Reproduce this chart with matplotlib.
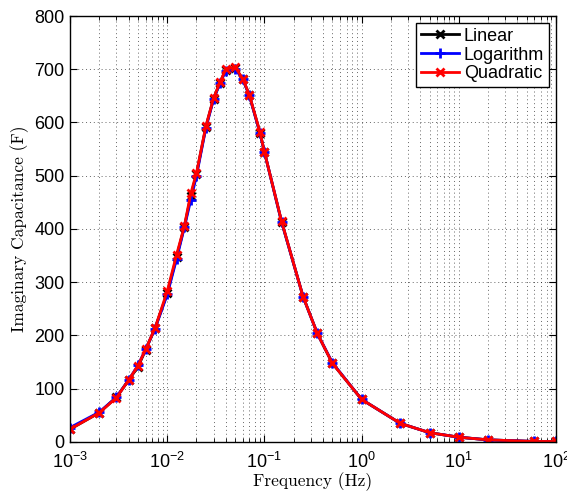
import matplotlib
matplotlib.use('Agg')
import matplotlib.pyplot as plt
from matplotlib.ticker import LogLocator, NullFormatter

plt.rcParams['font.family'] = ['Liberation Sans', 'DejaVu Sans']

# frequencies (Hz)
freq = [0.001, 0.002, 0.003, 0.004, 0.005, 0.006, 0.0075, 0.01, 0.0125, 0.015,
        0.0175, 0.02, 0.025, 0.03, 0.035, 0.04, 0.05, 0.06, 0.07, 0.09, 0.1,
        0.15, 0.25, 0.35, 0.5, 1.0, 2.5, 5.0, 10.0, 20.0, 60.0, 100.0]

# imaginary capacitance (F)
cap_linear = [24, 55, 84, 116, 141, 173, 214, 279, 348, 404,
              462, 503, 592, 645, 675, 699, 703, 681, 651, 581, 545,
              414, 273, 204, 148, 80, 35, 17.5, 9, 4, 1, 1]
cap_log = [27, 56, 84, 116, 144, 174, 213, 277, 344, 403,
           455, 500, 590, 644, 674, 697, 701, 681, 651, 580, 545,
           414, 273, 204, 149, 80, 35, 17.5, 9, 4, 1, 1]
cap_quad = [24, 55, 83, 116, 143, 174, 214, 283, 352, 405,
            467, 505, 593, 646, 676, 700, 704, 682, 652, 582, 545,
            415, 273, 204, 148, 80, 35, 17.5, 9, 4, 1, 1]

fig = plt.figure(figsize=(5.67, 4.94), dpi=100)
ax = fig.add_axes([0.1235, 0.1053, 0.857, 0.8623])

ax.semilogx(freq, cap_linear, '-x', color='black', lw=2, ms=6, mew=2, label='Linear')
ax.semilogx(freq, cap_log, '-+', color='blue', lw=2, ms=7, mew=2, label='Logarithm')
ax.semilogx(freq, cap_quad, '-x', color='red', lw=2, ms=6, mew=2, label='Quadratic')

ax.set_xlim(1e-3, 1e2)
ax.set_ylim(0, 800)
ax.set_yticks(range(0, 801, 100))
ax.xaxis.set_major_locator(LogLocator(base=10, numticks=10))
ax.xaxis.set_minor_locator(LogLocator(base=10, subs=range(2, 10), numticks=20))
ax.xaxis.set_minor_formatter(NullFormatter())

grid_style = dict(color='black', ls=(0, (1, 3)), lw=0.7, alpha=0.6)
ax.grid(True, which='major', axis='both', **grid_style)
ax.grid(True, which='minor', axis='x', **grid_style)

ax.tick_params(which='both', direction='in', top=True, right=True, labelsize=13)
ax.tick_params(which='major', length=5)
ax.tick_params(which='minor', length=3)
ax.tick_params(axis='x', which='major', pad=7)
ax.tick_params(axis='y', which='major', pad=4)
for s in ax.spines.values():
    s.set_linewidth(1.0)

ax.set_xlabel('Frequency (Hz)', fontfamily='cmr10', fontsize=12.5, labelpad=0.5)
ax.set_ylabel('Imaginary Capacitance (F)', fontfamily='cmr10', fontsize=12.5)

leg = ax.legend(loc='upper right', fontsize=13, fancybox=False, edgecolor='black',
                framealpha=1, borderpad=0.25, labelspacing=0.1, handlelength=2.1,
                handletextpad=0.3, borderaxespad=0.4)
leg.get_frame().set_linewidth(1.0)

fig.savefig('out.png', dpi=100)
